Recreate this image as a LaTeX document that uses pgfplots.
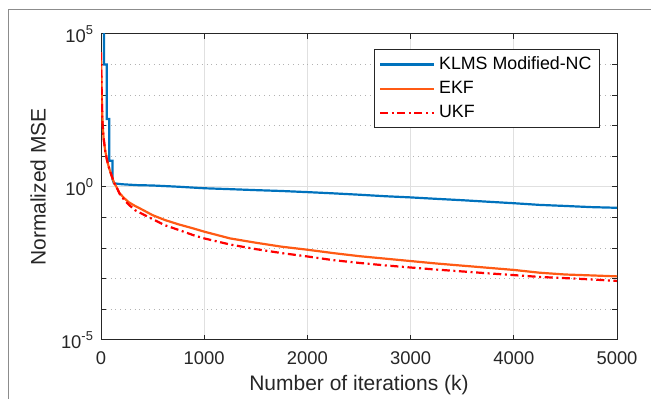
\documentclass[border=0pt]{standalone}
\usepackage{fontspec}
\setmainfont{Liberation Sans}
\usepackage{pgfplots}
\pgfplotsset{compat=1.18}

\definecolor{klms}{rgb}{0,0.447,0.741}
\definecolor{ekf}{RGB}{255,90,20}
\definecolor{ukf}{RGB}{255,0,0}
\definecolor{axgray}{RGB}{38,38,38}

\begin{document}
\begin{tikzpicture}
\useasboundingbox (0,0) rectangle (325.5pt,199.5pt);
% outer frame of the figure panel
\draw[black!45, line width=0.5pt] (4pt,0pt) -- (4pt,194.5pt) -- (325.5pt,194.5pt);
\begin{axis}[
  at={(50.5pt,29.5pt)}, anchor=south west,
  scale only axis, width=258pt, height=153pt,
  ymode=log,
  xmin=0, xmax=5000, ymin=1e-5, ymax=1e5,
  xtick={0,1000,2000,3000,4000,5000},
  ytick={1e-5,1,1e5},
  yticklabels={10\textsuperscript{-5},10\textsuperscript{0},10\textsuperscript{5}},
  minor ytick={1e-4,1e-3,1e-2,1e-1,10,100,1e3,1e4},
  grid=both,
  major grid style={draw=black!12, line width=0.5pt},
  minor grid style={draw=black!30, dotted, line width=0.5pt},
  tick align=inside, tick pos=both,
  major tick length=2.6pt, minor tick length=2.6pt,
  axis line style={draw=axgray, line width=0.5pt},
  every tick/.style={draw=axgray, line width=0.5pt},
  ticklabel style={font=\fontsize{9.2}{11}\selectfont, text=axgray},
  xticklabel style={yshift=-2.5pt},
  /pgf/number format/assume math mode=true,
  /pgf/number format/1000 sep={},
  scaled x ticks=false,
  xlabel={Number of iterations (k)},
  ylabel={Normalized MSE},
  label style={font=\fontsize{10.5}{12}\selectfont, text=axgray},
  xlabel style={at={(axis description cs:0.5,-0.147)}, anchor=center},
  ylabel style={at={(axis description cs:-0.122,0.5)}, anchor=center},
  legend cell align=left,
  legend style={at={(0.967,0.951)}, anchor=north east,
    draw=axgray, line width=0.5pt, fill=white,
    font=\fontsize{8.9}{11}\selectfont, text=black,
    inner xsep=2pt, inner ysep=1.5pt,
    row sep=0.4pt},
  legend image code/.code={\draw[#1, line width=1.1pt] (0pt,0pt) -- (27pt,0pt);},
]
% KLMS Modified-NC
\addplot[klms, line width=1.1pt] coordinates {
  (0,1e6) (29,1e6) (29,1e4) (55,1e4) (55,166) (80,166) (80,7.24)
  (112,7.24) (112,1.78) (125,1.32) (200,1.23) (350,1.15) (500,1.12)
  (750,1.02) (1000,0.91) (1250,0.85) (1500,0.79) (1750,0.74)
  (2000,0.68) (2250,0.62) (2500,0.56) (2750,0.50) (3000,0.457)
  (3250,0.41) (3500,0.37) (3750,0.33) (4000,0.295) (4250,0.26)
  (4500,0.24) (4750,0.22) (5000,0.209)
};
\addlegendentry{KLMS Modified-NC}
% EKF
\addplot[ekf, line width=1.1pt] coordinates {
  (0,2.51e4) (5,2.51e3) (10,398) (15,126) (25,39.8) (40,15.8)
  (60,7.08) (80,3.98) (100,2.51) (125,1.41) (150,1.0) (180,0.631)
  (220,0.447) (270,0.316) (330,0.240) (400,0.182) (500,0.120)
  (620,0.0832) (750,0.0603) (900,0.0437) (1000,0.0347) (1250,0.0209)
  (1500,0.0151) (1750,0.0112) (2000,0.00891) (2250,0.00692)
  (2500,0.00550) (2750,0.00457) (3000,0.00380) (3250,0.00316)
  (3500,0.00269) (3750,0.00229) (4000,0.00195) (4250,0.00158)
  (4500,0.00138) (4750,0.00129) (5000,0.00120)
};
\addlegendentry{EKF}
% UKF
\addplot[draw=ukf, line width=1.1pt, dash pattern=on 4pt off 1.8pt on 1pt off 1.8pt] coordinates {
  (0,2.51e4) (5,2.51e3) (10,398) (15,126) (25,39.8) (40,15.8)
  (60,7.08) (80,3.98) (100,2.51) (125,1.41) (150,1.0) (180,0.603)
  (220,0.398) (270,0.263) (330,0.174) (400,0.132) (500,0.0891)
  (620,0.0562) (750,0.0398) (900,0.0263) (1000,0.0209) (1250,0.0132)
  (1500,0.00933) (1750,0.00692) (2000,0.00537) (2250,0.00407)
  (2500,0.00331) (2750,0.00275) (3000,0.00234) (3250,0.00200)
  (3500,0.00174) (3750,0.00151) (4000,0.00132) (4250,0.00115)
  (4500,0.00105) (4750,0.000955) (5000,0.000851)
};
\addlegendentry{UKF}
\end{axis}
\end{tikzpicture}
\end{document}
